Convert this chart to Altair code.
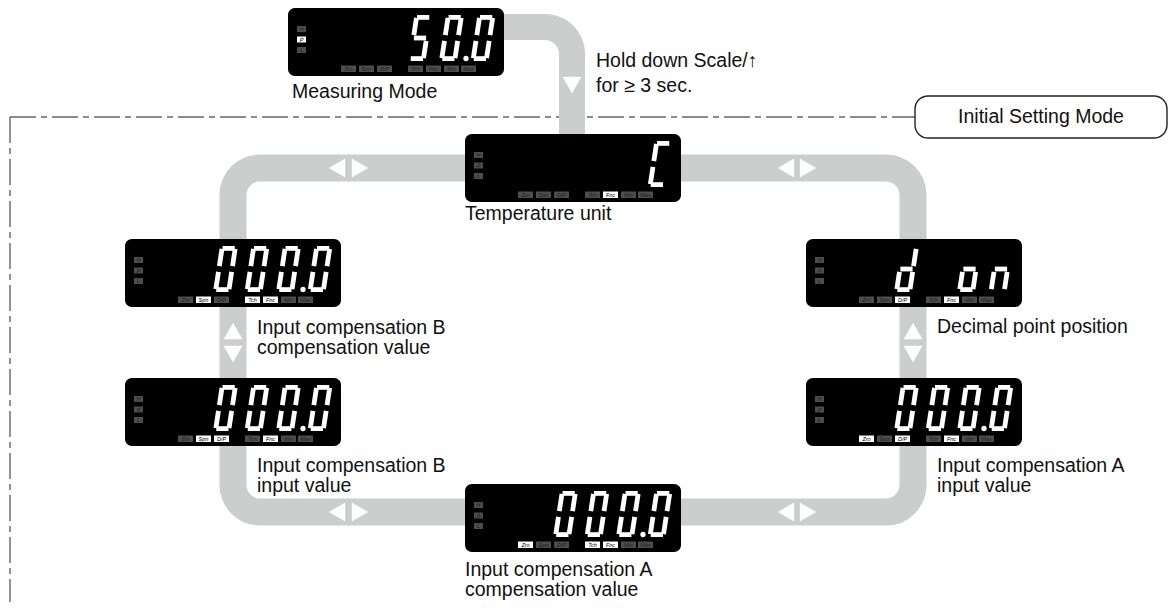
import altair as alt
import numpy as np
import pandas as pd

# ---------------- content ----------------
display_ids = ["measure", "temp", "b_comp", "b_input", "a_comp", "a_input", "dpos"]
display_digits = [" 500", "   C", "0000", "0000", "0000", "0000", "d on"]
display_dp = [2, -1, 2, 2, 2, 2, -1]          # decimal point after this slot (-1 = none)
hpl_labels = ["H", "P", "L"]
mode_labels = ["Zro", "Spn", "D/P", "Tch", "Fnc", "Min", "Max"]
hpl_lit = [["P"], [], [], [], [], [], []]
mode_lit = [[], ["Fnc"], ["Spn", "Tch", "Fnc"], ["Spn", "D/P", "Fnc"],
            ["Zro", "Tch", "Fnc"], ["Zro", "D/P", "Fnc"], ["D/P", "Fnc"]]
display_caption = [["Measuring Mode"], ["Temperature unit"],
                   ["Input compensation B", "compensation value"],
                   ["Input compensation B", "input value"],
                   ["Input compensation A", "compensation value"],
                   ["Input compensation A", "input value"],
                   ["Decimal point position"]]
note_lines = ["Hold down Scale/\u2191", "for \u2265 3 sec."]
mode_box_text = "Initial Setting Mode"
seven_seg = {"0": "abcdef", "5": "afgcd", "C": "afed", "d": "bcdeg",
             "o": "cdeg", "n": "ceg", " ": ""}

# ---------------- layout ----------------
GRAY = "#cccdcd"
FONT = "Liberation Sans, DejaVu Sans"
display_left = [288, 465, 125, 125, 465, 806, 806]
display_top = [8, 134, 239, 378, 484, 378, 239]
DW, DH = 216, 68
caption_x = [292, 465, 257, 257, 465, 937, 937]
caption_y = [98, 220, 334, 472, 576, 472, 333]
LINE = 20
hpl_y = [21, 31.5, 42]
mode_x = [53, 71, 89, 120, 138, 156, 173]
slot_x = [88, 119.5, 151, 182.5]
DIG_TOP, DIG_H, DIG_W, SLANT, SEG_T = 7, 46, 18, 7, 4.8

xs = alt.Scale(domain=[8, 1168], nice=False, zero=False)
ys = alt.Scale(domain=[8, 602], nice=False, zero=False, reverse=True)


def X(f):
    return alt.X(f, type="quantitative", scale=xs, axis=None)


def Y(f):
    return alt.Y(f, type="quantitative", scale=ys, axis=None)


def X2(f):
    return alt.X2(f)


def Y2(f):
    return alt.Y2(f)


# dashed boundary
dash_df = pd.DataFrame({"x": [10, 10], "y": [117, 117], "x2": [915, 10], "y2": [117, 602]})
dash = alt.Chart(dash_df).mark_rule(color="#666666", strokeWidth=1.4,
                                    strokeDash=[26, 5, 6, 5]).encode(
    x=X("x"), y=Y("y"), x2=X2("x2"), y2=Y2("y2"))

# gray loop
loop_df = pd.DataFrame({"x": [233], "x2": [913], "y": [168], "y2": [512]})
loop = alt.Chart(loop_df).mark_rect(fill="white", fillOpacity=0, stroke=GRAY,
                                    strokeWidth=27, cornerRadius=27).encode(
    x=X("x"), x2=X2("x2"), y=Y("y"), y2=Y2("y2"))

# connector from measuring mode
th = np.linspace(0, np.pi / 2, 16)
cx = [480, 545] + list(545 + 27 * np.sin(th)) + [572]
cy = [27, 27] + list(54 - 27 * np.cos(th)) + [150]
conn_df = pd.DataFrame({"x": cx, "y": cy, "i": range(len(cx))})
conn = alt.Chart(conn_df).mark_line(color=GRAY, strokeWidth=26, strokeCap="butt",
                                    strokeJoin="round").encode(
    x=X("x"), y=Y("y"), order="i:Q")

# arrows
tri_df = pd.DataFrame([
    (337, 168, "triangle-left"), (360, 168, "triangle-right"),
    (786, 168, "triangle-left"), (808, 168, "triangle-right"),
    (337, 512, "triangle-left"), (360, 512, "triangle-right"),
    (786, 512, "triangle-left"), (808, 512, "triangle-right"),
    (233, 331, "triangle-up"), (233, 354, "triangle-down"),
    (913, 331, "triangle-up"), (913, 354, "triangle-down"),
    (572, 85, "triangle-down")], columns=["x", "y", "shape"])
tris = alt.Chart(tri_df).mark_point(filled=True, color="white", opacity=1,
                                    size=360, strokeWidth=0).encode(
    x=X("x"), y=Y("y"), shape=alt.Shape("shape:N", scale=None))

# displays
disp_df = pd.DataFrame({"x": display_left, "y": display_top,
                        "x2": [l + DW for l in display_left],
                        "y2": [t + DH for t in display_top]})
disp = alt.Chart(disp_df).mark_rect(color="black", cornerRadius=7).encode(
    x=X("x"), x2=X2("x2"), y=Y("y"), y2=Y2("y2"))

# indicator boxes
rows = []
for k in range(len(display_ids)):
    L, T = display_left[k], display_top[k]
    for j, lab in enumerate(hpl_labels):
        lit = lab in hpl_lit[k]
        rows.append(dict(x=L + 9, x2=L + 18, y=T + hpl_y[j] - 3, y2=T + hpl_y[j] + 3,
                         tx=L + 13.5, ty=T + hpl_y[j], lab=lab,
                         fill="white" if lit else "#4d4d4d",
                         tc="black" if lit else "#1e1e1e"))
    for j, lab in enumerate(mode_labels):
        lit = lab in mode_lit[k]
        rows.append(dict(x=L + mode_x[j], x2=L + mode_x[j] + 15, y=T + 57.5, y2=T + 64,
                         tx=L + mode_x[j] + 7.5, ty=T + 60.8, lab=lab,
                         fill="white" if lit else "#4d4d4d",
                         tc="black" if lit else "#1e1e1e"))
ind_df = pd.DataFrame(rows)
ind = alt.Chart(ind_df).mark_rect().encode(
    x=X("x"), x2=X2("x2"), y=Y("y"), y2=Y2("y2"), fill=alt.Fill("fill:N", scale=None))
ind_txt = alt.Chart(ind_df).mark_text(font=FONT, fontSize=5.5, fontStyle="italic",
                                      align="center", baseline="middle").encode(
    x=X("tx"), y=Y("ty"), text="lab:N", color=alt.Color("tc:N", scale=None))

# seven segment digits
t = SEG_T
h, w = DIG_H, DIG_W
seg_local = {
    "a": ((t * 0.6, h - t / 2), (w - t * 0.6, h - t / 2)),
    "g": ((t * 0.6, h / 2), (w - t * 0.6, h / 2)),
    "d": ((t * 0.6, t / 2), (w - t * 0.6, t / 2)),
    "f": ((t / 2, h / 2 + t * 0.6), (t / 2, h - t * 0.6)),
    "e": ((t / 2, t * 0.6), (t / 2, h / 2 - t * 0.6)),
    "b": ((w - t / 2, h / 2 + t * 0.6), (w - t / 2, h - t * 0.6)),
    "c": ((w - t / 2, t * 0.6), (w - t / 2, h / 2 - t * 0.6)),
}
seg_rows, dp_rows = [], []
for k in range(len(display_ids)):
    L, T = display_left[k], display_top[k]
    for s, ch in enumerate(display_digits[k]):
        ox = L + slot_x[s]
        for sg in seven_seg[ch]:
            (u1, v1), (u2, v2) = seg_local[sg]
            seg_rows.append(dict(
                x=ox + u1 + SLANT * v1 / h, y=T + DIG_TOP + h - v1,
                x2=ox + u2 + SLANT * v2 / h, y2=T + DIG_TOP + h - v2))
    if display_dp[k] >= 0:
        dp_rows.append(dict(x=L + slot_x[display_dp[k] + 1] - 4.5, y=T + DIG_TOP + h - 2.5))
seg_df = pd.DataFrame(seg_rows)
segs = alt.Chart(seg_df).mark_rule(color="white", strokeWidth=SEG_T, strokeCap="butt").encode(
    x=X("x"), y=Y("y"), x2=X2("x2"), y2=Y2("y2"))
dp_df = pd.DataFrame(dp_rows)
dps = alt.Chart(dp_df).mark_point(shape="circle", filled=True, color="white", opacity=1,
                                  size=28).encode(x=X("x"), y=Y("y"))

# captions
cap_rows = []
for k in range(len(display_ids)):
    for j, line in enumerate(display_caption[k]):
        cap_rows.append(dict(x=caption_x[k], y=caption_y[k] + j * LINE, txt=line))
for j, line in enumerate(note_lines):
    cap_rows.append(dict(x=596, y=67 + j * 25, txt=line))
cap_df = pd.DataFrame(cap_rows)
caps = alt.Chart(cap_df).mark_text(font=FONT, fontSize=19.5, align="left",
                                   baseline="alphabetic", color="#111").encode(
    x=X("x"), y=Y("y"), text="txt:N")

# Initial Setting Mode box
box_df = pd.DataFrame({"x": [915], "x2": [1167], "y": [96], "y2": [138],
                       "tx": [1041], "ty": [117], "txt": [mode_box_text]})
box = alt.Chart(box_df).mark_rect(fill="white", stroke="#222", strokeWidth=1.4,
                                  cornerRadius=13).encode(
    x=X("x"), x2=X2("x2"), y=Y("y"), y2=Y2("y2"))
box_txt = alt.Chart(box_df).mark_text(font=FONT, fontSize=19.5, align="center",
                                      baseline="middle", color="#111").encode(
    x=X("tx"), y=Y("ty"), text="txt:N")

chart = alt.layer(dash, loop, conn, tris, disp, ind, ind_txt, segs, dps, caps, box, box_txt).properties(
    width=1160, height=594, padding=0,
    autosize=alt.AutoSizeParams(type="none"),
    background="white",
).configure_view(stroke=None)

chart.save("out.html", embed_options={"renderer": "svg", "actions": False})
